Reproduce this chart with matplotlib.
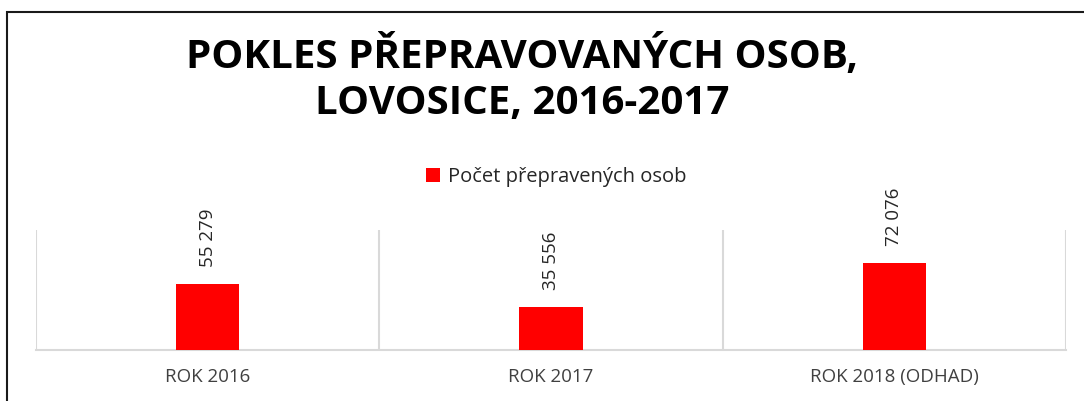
import matplotlib
matplotlib.use('Agg')
import matplotlib.pyplot as plt
from matplotlib.patches import Rectangle

# data
kategorie = ['ROK 2016', 'ROK 2017', 'ROK 2018 (ODHAD)']
pocet_osob = [55279, 35556, 72076]
popisky = ['55 279', '35 556', '72 076']
nazev_serie = 'Počet přepravených osob'
titulek = 'POKLES PŘEPRAVOVANÝCH OSOB,\nLOVOSICE, 2016-2017'

plt.rcParams['font.family'] = ['Open Sans', 'DejaVu Sans']

fig = plt.figure(figsize=(10.84, 4.01), dpi=100)
ax = fig.add_axes([0.0332, 0.1272, 0.9502, 0.2993])

x = range(len(kategorie))
bars = ax.bar(x, pocet_osob, width=0.185, color='#ff0000', label=nazev_serie, zorder=3)

for b, txt in zip(bars, popisky):
    ax.annotate(txt, (b.get_x() + b.get_width() / 2, b.get_height()),
                xytext=(0, 17), textcoords='offset pixels',
                rotation=90, ha='center', va='bottom',
                fontsize=13.5, color='#262626')

ax.set_xlim(-0.5, 2.5)
ax.set_ylim(0, 100000)
ax.set_yticks([])
ax.set_xticks(list(x))
ax.set_xticklabels(kategorie, fontsize=13.5, color='#404040')
ax.set_xticks([-0.5, 0.5, 1.5, 2.5], minor=True)
ax.tick_params(axis='x', which='both', length=0, pad=13)
ax.grid(which='minor', axis='x', color='#d9d9d9', linewidth=1.5, zorder=0)
for s in ['top', 'left', 'right']:
    ax.spines[s].set_visible(False)
ax.spines['bottom'].set_color('#d9d9d9')
ax.spines['bottom'].set_linewidth(1.5)

ax.legend(loc='center', bbox_to_anchor=(0.513, 1 - 177 / 401),
          bbox_transform=fig.transFigure, frameon=False,
          handlelength=0.7, handleheight=0.7, handletextpad=0.4,
          prop={'size': 14.5}, labelcolor='#262626')

fig.text(0.4815, 0.803, titulek, ha='center', va='center',
         fontsize=29, fontweight='bold', color='black', linespacing=1.25)

# ramecek grafu (vidi se jen horni a leva hrana)
fig.add_artist(Rectangle((7 / 1084, -0.2), 1.2, 1.2 - 11.5 / 401,
                         transform=fig.transFigure, fill=False,
                         edgecolor='#1a1a1a', linewidth=1.5))

fig.savefig('out.png', dpi=100)
